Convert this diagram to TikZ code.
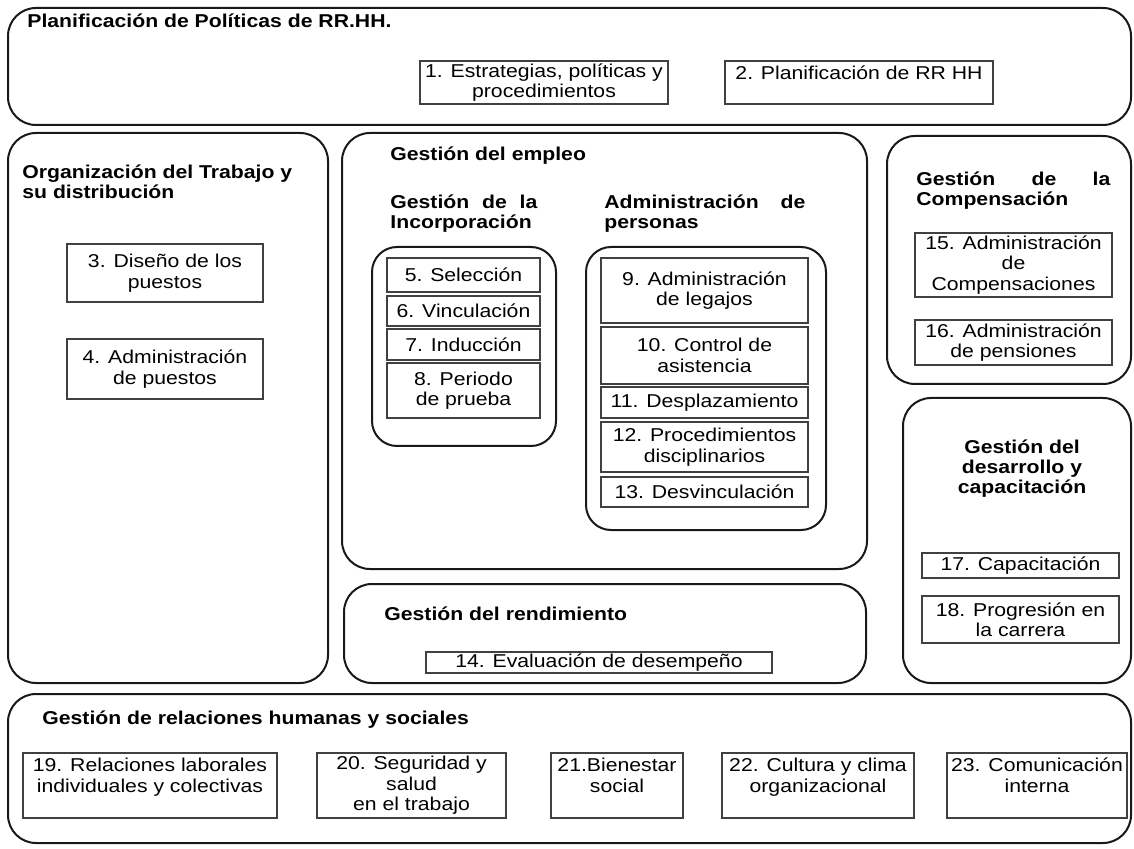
\documentclass[tikz,border=0pt]{standalone}
\usepackage{fontspec}
\setmainfont{Liberation Sans}[FakeStretch=1.14]
\usetikzlibrary{fit}
\tikzstyle{group}=[draw=black!90, line width=1pt, rounded corners=14pt, inner sep=0pt]
\tikzstyle{sub}=[draw=black!90, line width=1pt, rounded corners=12.5pt, inner sep=0pt]
\tikzstyle{item}=[draw=black!75, line width=0.6pt, inner sep=0pt, align=center]
\tikzstyle{head}=[inner sep=0pt, anchor=north west, align=left, font=\fontsize{9.3}{10}\selectfont\bfseries]
\tikzstyle{chead}=[inner sep=0pt, anchor=north, align=center, font=\fontsize{9.3}{10}\selectfont\bfseries]

\begin{document}
\begin{tikzpicture}[x=0.5pt, y=-0.5pt, font=\fontsize{9.3}{10.25}\selectfont]
			\useasboundingbox (0,0) rectangle (1134,849);

			%The planning band
			\draw node[group, fit={(8,8) (1131,125)}] (plan) {};
			\draw (27,13) node[head] (tplan) {Planificación de Políticas de RR.HH.};
			\draw (544,82.5) node[item, minimum width=124pt, minimum height=21.5pt] (b1) {1. Estrategias, políticas y\\procedimientos};
			\draw (859,82.5) node[item, minimum width=134pt, minimum height=21.5pt] (b2) {2. Planificación de RR HH\\~};

			%Organisation of the work
			\draw node[group, fit={(8,133) (328,683)}] (org) {};
			\draw (22,164) node[head] (torg) {Organización del Trabajo y\\su distribución};
			\draw (165,273) node[item, minimum width=98pt, minimum height=29pt] (b3) {3. Diseño de los\\puestos};
			\draw (165,369) node[item, minimum width=98pt, minimum height=30pt] (b4) {4. Administración\\de puestos};

			%Employment
			\draw node[group, fit={(342,133) (867,569)}] (emp) {};
			\draw (390,146) node[head] (temp) {Gestión del empleo};
			\draw (390,194) node[head] (tinc) {\makebox[73.5pt][s]{Gestión de la}\\Incorporación};
			\draw (604,194) node[head] (tadm) {\makebox[100.5pt][s]{Administración de}\\personas};

			\draw node[sub, fit={(372,247) (556,446)}] (inc) {};
			\draw (463.5,275) node[item, minimum width=76.5pt, minimum height=17pt] (b5) {5. Selección};
			\draw (463.5,311) node[item, minimum width=76.5pt, minimum height=15pt] (b6) {6. Vinculación};
			\draw (463.5,344.5) node[item, minimum width=76.5pt, minimum height=15.5pt] (b7) {7. Inducción};
			\draw (463.5,390.5) node[item, minimum width=76.5pt, minimum height=27.5pt] (b8) {8. Periodo\\de prueba};

			\draw node[sub, fit={(586,247) (826,530)}] (adm) {};
			\draw (704.5,290.5) node[item, minimum width=103.5pt, minimum height=32.5pt] (b9) {9. Administración\\de legajos};
			\draw (704.5,355.5) node[item, minimum width=103.5pt, minimum height=28.5pt] (b10) {10. Control de\\asistencia};
			\draw (704.5,402.5) node[item, minimum width=103.5pt, minimum height=15.5pt] (b11) {11. Desplazamiento};
			\draw (704.5,447) node[item, minimum width=103.5pt, minimum height=25pt] (b12) {12. Procedimientos\\disciplinarios};
			\draw (704.5,492) node[item, minimum width=103.5pt, minimum height=15pt] (b13) {13. Desvinculación};

			%Compensation
			\draw node[group, fit={(887,136) (1131,384)}] (comp) {};
			\draw (916,171) node[head] (tcomp) {\makebox[97pt][s]{Gestión de la}\\Compensación};
			\draw (1013.5,265) node[item, minimum width=98.5pt, minimum height=32pt] (b15) {15. Administración\\de\\Compensaciones};
			\draw (1013.5,342.5) node[item, minimum width=98.5pt, minimum height=22.5pt] (b16) {16. Administración\\de pensiones};

			%Development
			\draw node[group, fit={(903,398) (1131,683)}] (dev) {};
			\draw (1022,439) node[chead] (tdev) {Gestión del\\desarrollo y\\capacitación};
			\draw (1020.5,565.5) node[item, minimum width=98.5pt, minimum height=12.5pt] (b17) {17. Capacitación};
			\draw (1020.5,619.5) node[item, minimum width=98.5pt, minimum height=23.5pt] (b18) {18. Progresión en\\la carrera};

			%Performance
			\draw node[group, fit={(344,584) (866,683)}] (perf) {};
			\draw (384,606) node[head] (tperf) {Gestión del rendimiento};
			\draw (599,662.5) node[item, minimum width=173pt, minimum height=10.5pt] (b14) {14. Evaluación de desempeño};

			%Human and social relations
			\draw node[group, fit={(8,694) (1131,843)}] (rel) {};
			\draw (42,710) node[head] (trel) {Gestión de relaciones humanas y sociales};
			\draw (150,785.5) node[item, minimum width=127pt, minimum height=32.5pt] (b19) {19. Relaciones laborales\\individuales y colectivas\\~};
			\draw (411.5,785.5) node[item, minimum width=94.5pt, minimum height=32.5pt] (b20) {20. Seguridad y\\salud\\en el trabajo};
			\draw (617,785.5) node[item, minimum width=66pt, minimum height=32.5pt] (b21) {21.Bienestar\\social\\~};
			\draw (818,785.5) node[item, minimum width=96pt, minimum height=32.5pt] (b22) {22. Cultura y clima\\organizacional\\~};
			\draw (1037,785.5) node[item, minimum width=90pt, minimum height=32.5pt] (b23) {23. Comunicación\\interna\\~};
		\end{tikzpicture}
\end{document}
